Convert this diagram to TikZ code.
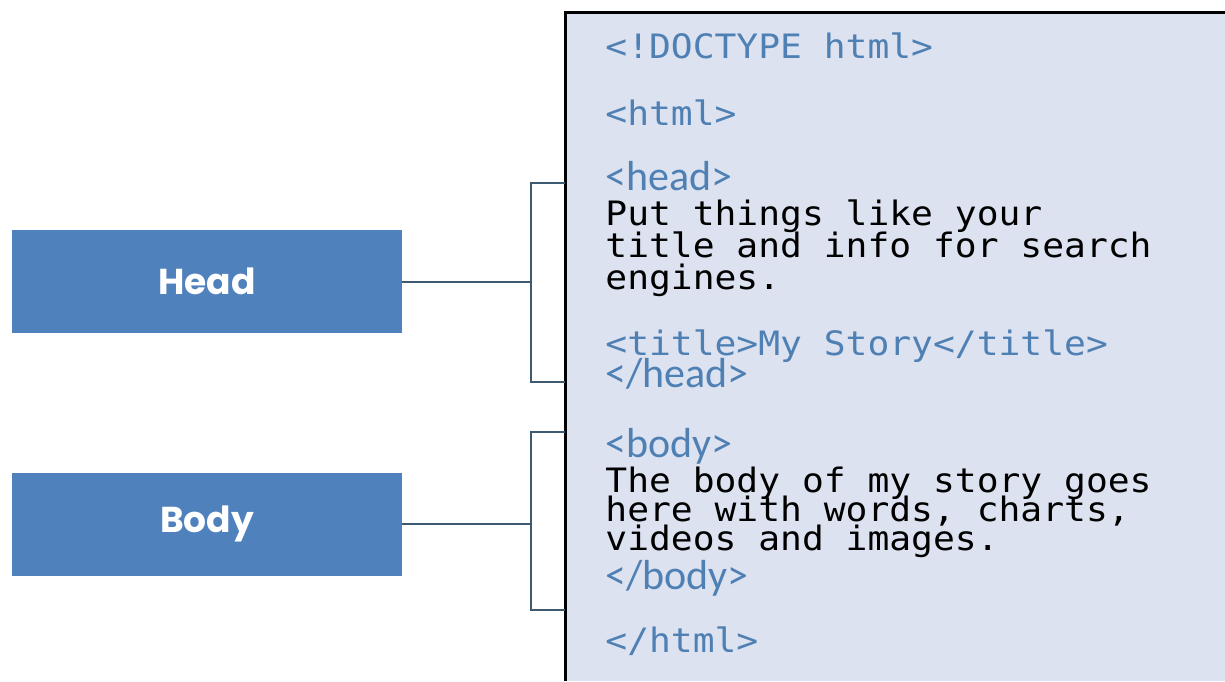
\documentclass[tikz,border=0pt]{standalone}
\usepackage{fontspec}
\usepackage{tikz}
\newfontfamily\codefont[FakeStretch=1.08]{DejaVu Sans Mono}
\newfontfamily\tagfont{Carlito}
\newfontfamily\boxfont{Poppins}
\definecolor{kasten}{HTML}{4F81BD}
\definecolor{blatt}{HTML}{DCE2F0}
\definecolor{tagblau}{HTML}{4F80B4}
\definecolor{linie}{HTML}{3E5A70}
\tikzset{
  part/.style={fill=kasten,text=white,minimum width=195pt,minimum height=51.5pt,inner sep=0pt,font=\boxfont\bfseries\fontsize{18pt}{20pt}\selectfont},
  code/.style={anchor=base west,inner sep=0pt,font=\codefont\fontsize{16.8pt}{18pt}\selectfont,text=tagblau},
  plain/.style={code,text=black},
  tag/.style={anchor=base west,inner sep=0pt,font=\tagfont\fontsize{21pt}{23pt}\selectfont,text=tagblau},
  link/.style={linie,line width=1pt}
}

\begin{document}
\begin{tikzpicture}[x=0.5pt,y=-0.5pt]
  \useasboundingbox (0,0) rectangle (1225,681);
  \fill[blatt] (565,12) rectangle (1225,681);
  \draw[black,line width=1.5pt] (565,681)--(565,12)--(1225,12);
  \node[part] (head) at (207,281.5) {Head};
  \node[part] (body) at (207,524) {Body};
  \coordinate (hmid) at (531,281.5); \coordinate (htop) at (565,183); \coordinate (hbot) at (565,382);
  \coordinate (bmid) at (531,524); \coordinate (btop) at (565,432); \coordinate (bbot) at (565,610);
  \draw[link] (head.east)--(hmid); \draw[link] (htop)-|(hmid)|-(hbot);
  \draw[link] (body.east)--(bmid); \draw[link] (btop)-|(bmid)|-(bbot);
  \node[code] (doctype) at (605,58) {<!DOCTYPE html>};
  \node[code] (htmlopen) at (605,125) {<html>};
  \node[tag] (headopen) at (605,190) {<head>};
  \node[plain] (headone) at (605,225) {Put things like your};
  \node[plain] (headtwo) at (605,257) {title and info for search};
  \node[plain] (headthree) at (605,289) {engines.};
  \node[code] (titleline) at (605,355) {<title>My Story</title>};
  \node[tag] (headclose) at (605,387) {</head>};
  \node[tag] (bodyopen) at (605,457) {<body>};
  \node[plain] (bodyone) at (605,492) {The body of my story goes};
  \node[plain] (bodytwo) at (605,521) {here with words, charts,};
  \node[plain] (bodythree) at (605,550) {videos and images.};
  \node[tag] (bodyclose) at (605,589) {</body>};
  \node[code] (htmlclose) at (605,652) {</html>};
\end{tikzpicture}
\end{document}
